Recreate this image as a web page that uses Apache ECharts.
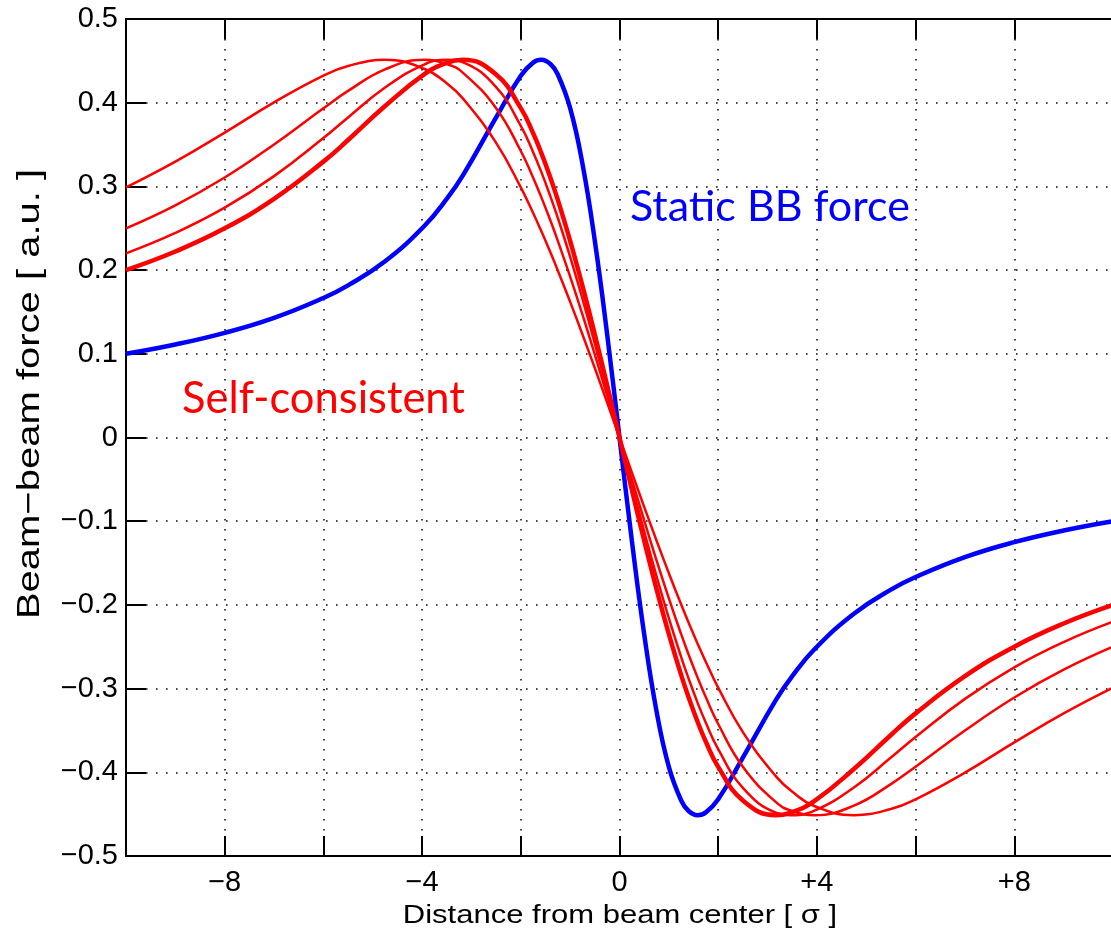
<!DOCTYPE html>
<html>
<head>
<meta charset="utf-8">
<script src="https://cdn.jsdelivr.net/npm/echarts@6/dist/echarts.min.js"></script>
<style>html,body{margin:0;padding:0;background:#fff;overflow:hidden;}#c{width:1116px;height:934px;}</style>
</head>
<body>
<div id="c"></div>
<script>
// x positions in units of sigma
const xs = [-10,-9,-8,-7,-6,-5.5,-4.75,-3.96,-3.49,-3.17,-2.5,-2,-1.75,-1.585,-1.4,-1.25,-1,-0.75,-0.5,-0.25,0,
            0.25,0.5,0.75,1,1.25,1.4,1.585,1.75,2,2.5,3.17,3.49,3.96,4.75,5.5,6,7,8,9,10];
// Static beam-beam force (blue)
const staticForce = [0.1000,0.1111,0.1250,0.1429,0.1667,0.1818,0.2105,0.2524,0.2859,0.3134,0.3824,0.4323,0.4479,0.4512,0.4462,0.4337,0.3935,0.3269,0.2350,0.1231,0,
  -0.1231,-0.2350,-0.3269,-0.3935,-0.4337,-0.4462,-0.4512,-0.4479,-0.4323,-0.3824,-0.3134,-0.2859,-0.2524,-0.2105,-0.1818,-0.1667,-0.1429,-0.1250,-0.1111,-0.1000];
// Self-consistent curves (red), thick one first
const selfA = [0.2000,0.2222,0.2499,0.2851,0.3296,0.3554,0.3960,0.4339,0.4480,0.4512,0.4337,0.3935,0.3635,0.3401,0.3104,0.2839,0.2350,0.1811,0.1231,0.0623,0,
  -0.0623,-0.1231,-0.1811,-0.2350,-0.2839,-0.3104,-0.3401,-0.3635,-0.3935,-0.4337,-0.4512,-0.4480,-0.4339,-0.3960,-0.3554,-0.3296,-0.2851,-0.2499,-0.2222,-0.2000];
const selfB = [0.2200,0.2444,0.2746,0.3123,0.3578,0.3824,0.4181,0.4456,0.4512,0.4482,0.4186,0.3723,0.3409,0.3173,0.2880,0.2624,0.2159,0.1656,0.1122,0.0566,0,
  -0.0566,-0.1122,-0.1656,-0.2159,-0.2624,-0.2880,-0.3173,-0.3409,-0.3723,-0.4186,-0.4482,-0.4512,-0.4456,-0.4181,-0.3824,-0.3578,-0.3123,-0.2746,-0.2444,-0.2200];
const selfC = [0.2499,0.2774,0.3106,0.3501,0.3933,0.4141,0.4398,0.4512,0.4460,0.4357,0.3935,0.3423,0.3104,0.2872,0.2592,0.2350,0.1922,0.1467,0.0990,0.0499,0,
  -0.0499,-0.0990,-0.1467,-0.1922,-0.2350,-0.2592,-0.2872,-0.3104,-0.3423,-0.3935,-0.4357,-0.4460,-0.4512,-0.4398,-0.4141,-0.3933,-0.3501,-0.3106,-0.2774,-0.2499];
const selfD = [0.2988,0.3296,0.3643,0.4004,0.4323,0.4439,0.4512,0.4406,0.4227,0.4049,0.3520,0.2989,0.2682,0.2466,0.2211,0.1996,0.1621,0.1231,0.0828,0.0416,0,
  -0.0416,-0.0828,-0.1231,-0.1621,-0.1996,-0.2211,-0.2466,-0.2682,-0.2989,-0.3520,-0.4049,-0.4227,-0.4406,-0.4512,-0.4439,-0.4323,-0.4004,-0.3643,-0.3296,-0.2988];
// tick labels
const xTickValues = [-8,-4,0,4,8];
const xTickLabels = ['\u22128','\u22124','0','+4','+8'];
const yTickValues = [0.5,0.4,0.3,0.2,0.1,0,-0.1,-0.2,-0.3,-0.4,-0.5];
const yTickLabels = ['0.5','0.4','0.3','0.2','0.1','0','\u22120.1','\u22120.2','\u22120.3','\u22120.4','\u22120.5'];
const xTitle = 'Distance from beam center [ \u03c3 ]';
const yTitle = 'Beam\u2212beam force [ a.u. ]';
const staticLabel = 'Static BB force';
const selfLabel = 'Self-consistent';

function pairs(ys){ return xs.map((x,i)=>[x, ys[i]]); }
function xFmt(v){ const i = xTickValues.findIndex(t=>Math.abs(t-v)<1e-9); return i>=0 ? xTickLabels[i] : ''; }
function yFmt(v){ const i = yTickValues.findIndex(t=>Math.abs(t-v)<1e-9); return i>=0 ? yTickLabels[i] : ''; }

const tickFont = {fontFamily:'Liberation Sans, Arial, sans-serif', fontSize:29, color:'#000'};
const gridLine = {show:true, lineStyle:{color:'#111', width:1.6, type:[1.6,8.4]}};
const axisLineStyle = {lineStyle:{color:'#000', width:2}};
const tickStyle = {show:true, inside:true, length:20, lineStyle:{color:'#000', width:2}};

const chart = echarts.init(document.getElementById('c'), null, {renderer:'canvas'});
const curve = (data, color, w, z) => ({type:'line', data: pairs(data), showSymbol:false, smooth:0.45,
  lineStyle:{color:color, width:w}, itemStyle:{color:color}, z:z});
chart.setOption({
  animation:false,
  backgroundColor:'#fff',
  grid:{left:126, top:19, right:1, bottom:78},
  xAxis:[{
    type:'value', min:-10, max:10, interval:2, position:'bottom',
    axisLine:{show:true, onZero:false, ...axisLineStyle},
    axisTick:tickStyle,
    axisLabel:{...tickFont, margin:12, formatter:xFmt, showMinLabel:true, showMaxLabel:true},
    splitLine:gridLine
  },{
    type:'value', min:-10, max:10, interval:2, position:'top',
    axisLine:{show:true, onZero:false, ...axisLineStyle},
    axisTick:tickStyle,
    axisLabel:{show:false}, splitLine:{show:false}
  }],
  yAxis:[{
    type:'value', min:-0.5, max:0.5, interval:0.1, position:'left',
    axisLine:{show:true, onZero:false, ...axisLineStyle},
    axisTick:tickStyle,
    axisLabel:{...tickFont, margin:8, formatter:yFmt, showMinLabel:true, showMaxLabel:true},
    splitLine:gridLine
  }],
  series:[
    curve(staticForce, '#0000ff', 4.5, 2),
    curve(selfD, '#ff0000', 2.5, 3),
    curve(selfC, '#ff0000', 2.5, 3),
    curve(selfB, '#ff0000', 2.5, 3),
    curve(selfA, '#ff0000', 4.5, 3)
  ],
  graphic:[
    {type:'text', x:620, y:916, scaleX:1.24, style:{text:xTitle, align:'center', verticalAlign:'middle',
      font:'25px "Liberation Sans", Arial, sans-serif', fill:'#000'}},
    {type:'text', x:30, y:394, rotation:Math.PI/2, scaleX:1.25, style:{text:yTitle, align:'center', verticalAlign:'middle',
      font:'32px "Liberation Sans", Arial, sans-serif', fill:'#000'}},
    {type:'text', x:630, y:207, style:{text:staticLabel, align:'left', verticalAlign:'middle',
      font:'43px Lato, "Open Sans", sans-serif', fill:'#0000ff'}},
    {type:'text', x:182, y:399, style:{text:selfLabel, align:'left', verticalAlign:'middle',
      font:'43.5px Lato, "Open Sans", sans-serif', fill:'#ff0000'}}
  ]
});
</script>
</body>
</html>
